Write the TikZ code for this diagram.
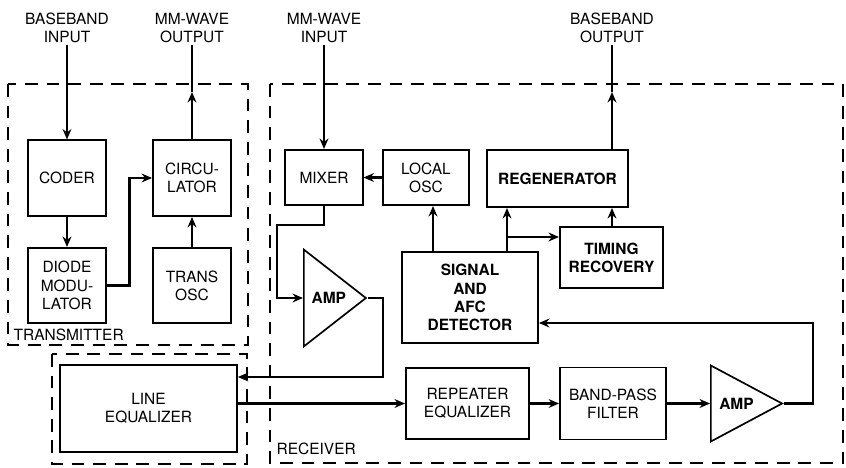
\documentclass[tikz,border=0pt]{standalone}
\usepackage{fontspec}
\setmainfont{TeX Gyre Heros}
\usetikzlibrary{arrows.meta, positioning, shapes.geometric}
\tikzset{
  arrowK/.style={-{Stealth[length=2.6mm, width=2.2mm]}, black, line width=1.6pt},
  lineK/.style={black, line width=1.6pt},
  blkBox/.style={rectangle, draw=black, line width=1.3pt, fill=white,
                 align=center, font=\fontsize{11}{13}\selectfont, inner sep=2pt},
  blkBold/.style={blkBox, font=\bfseries\fontsize{11}{13}\selectfont},
  ampTri/.style={isosceles triangle, isosceles triangle stretches, draw=black,
                 line width=1.2pt, inner sep=0pt, anchor=west,
                 font=\bfseries\fontsize{11}{13}\selectfont},
  dashBox/.style={draw=black, line width=1.1pt, dash pattern=on 3.2mm off 2.2mm},
  lblTxt/.style={align=center, font=\fontsize{11}{13}\selectfont, inner sep=1pt},
}
\begin{document}
\begin{tikzpicture}[x=0.025cm, y=-0.025cm]
  \useasboundingbox (0,0) rectangle (846,467);

  % dashed frames
  \draw[dashBox] (8,84) rectangle (248,345);
  \draw[dashBox] (52,354) rectangle (247,464);
  \draw[dashBox] (270,84) rectangle (843,463);
  \node[lblTxt, anchor=west] (txlbl) at (12,335) {TRANSMITTER};
  \node[lblTxt, anchor=west] (rxlbl) at (275,449) {RECEIVER};

  % outside labels
  \node[lblTxt] (bbin)  at (67,28)  {BASEBAND\\INPUT};
  \node[lblTxt] (mmout) at (192,28) {MM-WAVE\\OUTPUT};
  \node[lblTxt] (mmin)  at (324,28) {MM-WAVE\\INPUT};
  \node[lblTxt] (bbout) at (612,28) {BASEBAND\\OUTPUT};

  % transmitter
  \node[blkBox, minimum width=1.95cm, minimum height=1.88cm] (coder) at (67,178) {CODER};
  \node[blkBox, minimum width=1.93cm, minimum height=1.88cm] (dmod) at (67,285.5) {DIODE\\MODU-\\LATOR};
  \node[blkBox, minimum width=1.95cm, minimum height=1.9cm] (circ) at (192,178) {CIRCU-\\LATOR};
  \node[blkBox, minimum width=1.95cm, minimum height=1.88cm] (tosc) at (192,285.5) {TRANS\\OSC};

  % receiver
  \node[blkBox, minimum width=1.93cm, minimum height=1.38cm] (mixer) at (324,177.5) {MIXER};
  \node[blkBox, minimum width=2.15cm, minimum height=1.38cm] (losc) at (426,177.5) {LOCAL\\OSC};
  \node[blkBold, minimum width=3.52cm, minimum height=1.43cm] (regen) at (557.5,178.5) {REGENERATOR};
  \node[blkBold, minimum width=2.58cm, minimum height=1.53cm] (timing) at (611.5,257.5) {TIMING\\RECOVERY};
  \node[blkBold, minimum width=3.4cm, minimum height=2.28cm] (sigdet) at (470,297.5) {SIGNAL\\AND\\AFC\\DETECTOR};
  \node[ampTri, minimum height=1.55cm, minimum width=2.42cm] (amp1) at (303,298) {AMP};
  \node[blkBox, minimum width=3.08cm, minimum height=1.78cm] (repeq) at (467.5,403.5) {REPEATER\\EQUALIZER};
  \node[blkBox, minimum width=2.65cm, minimum height=1.8cm] (bpf) at (613,403.5) {BAND-PASS\\FILTER};
  \node[ampTri, minimum height=1.78cm, minimum width=1.9cm] (amp2) at (710,403.5) {AMP};
  \node[blkBox, minimum width=4.42cm, minimum height=2.18cm] (lineq) at (148.5,408.5) {LINE\\EQUALIZER};

  % transmitter connections
  \draw[arrowK] (bbin) -- (coder);
  \draw[arrowK] (coder) -- (dmod);
  \draw[arrowK] (dmod.east) -- ++(23,0) |- (circ.west);
  \draw[arrowK] (tosc) -- (circ);
  \coordinate (mmtip) at (192,92);
  \draw[arrowK] (circ) -- (mmtip);
  \draw[lineK] (mmtip) -- (mmout);

  % receiver connections
  \draw[arrowK] (mmin) -- (mixer);
  \draw[arrowK] (losc) -- (mixer);
  \draw[arrowK] (mixer.south) |- (277,225) |- (amp1.west);
  \draw[arrowK] (amp1.apex) -| (383,377) -- (lineq.east |- 383,377);
  \draw[arrowK] (lineq.east |- repeq.west) -- (repeq.west);
  \draw[arrowK] (repeq) -- (bpf);
  \draw[arrowK] (bpf) -- (amp2.west);
  \draw[arrowK] (amp2.apex) -| (813,323) -- (sigdet.east |- 813,323);
  \draw[arrowK] (sigdet.north -| 433,0) -- (losc.south -| 433,0);
  \draw[arrowK] (sigdet.north -| 507,0) -- (regen.south -| 507,0);
  \draw[arrowK] (507,237) -- (timing.west |- 507,237);
  \draw[arrowK] (timing.north -| 612,0) -- (regen.south -| 612,0);
  \coordinate (bbtip) at (612,92);
  \draw[arrowK] (regen.north -| 612,0) -- (bbtip);
  \draw[lineK] (bbtip) -- (bbout);
\end{tikzpicture}
\end{document}
